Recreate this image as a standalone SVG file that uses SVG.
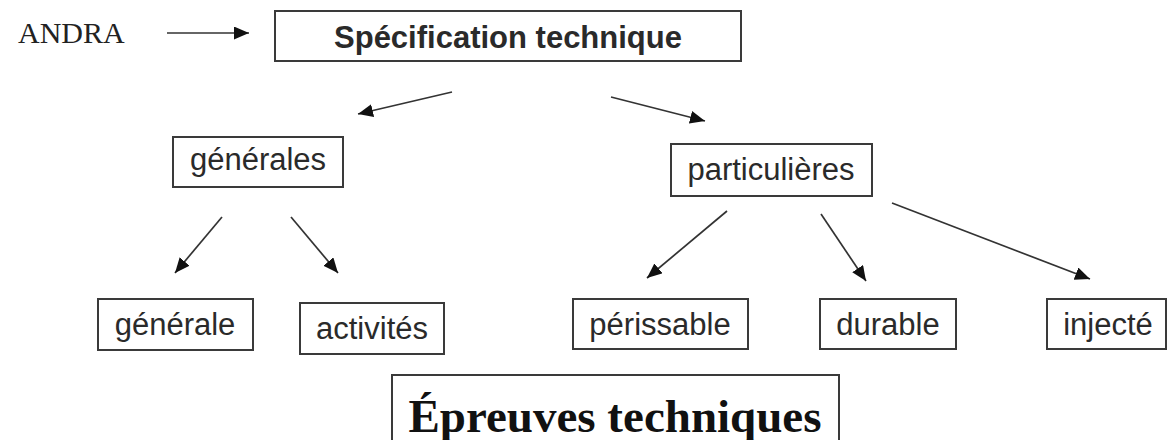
<svg xmlns="http://www.w3.org/2000/svg" width="1167" height="440" viewBox="0 0 1167 440">
<style>
.box{fill:#fff;stroke:#3a3a3a;stroke-width:2}
.lbl{font-family:"Liberation Sans",Arial,sans-serif;font-size:31px;fill:#2a2a2a;text-anchor:middle}
.conn{stroke:#333;stroke-width:1.7;fill:none;marker-end:url(#ah)}
</style>
<defs>
<marker id="ah" markerUnits="userSpaceOnUse" markerWidth="16" markerHeight="14" refX="15" refY="6.5" orient="auto">
<path d="M0,0 L15,6.5 L0,13 z" fill="#111"/>
</marker>
</defs>
<rect width="1167" height="440" fill="#fff"/>
<g id="andra">
<text x="18" y="43" font-family="'Liberation Serif','Times New Roman',serif" font-size="30" fill="#222">ANDRA</text>
</g>
<g id="specification">
<rect class="box" x="275" y="11" width="466" height="50"/>
<text class="lbl" x="508" y="48" font-weight="bold">Spécification technique</text>
</g>
<g id="generales">
<rect class="box" x="173" y="137" width="170" height="50"/>
<text class="lbl" x="258" y="170">générales</text>
</g>
<g id="particulieres">
<rect class="box" x="671" y="144" width="201" height="52"/>
<text class="lbl" x="771" y="180">particulières</text>
</g>
<g id="generale">
<rect class="box" x="98" y="299" width="155" height="51"/>
<text class="lbl" x="175" y="335">générale</text>
</g>
<g id="activites">
<rect class="box" x="300" y="303" width="144" height="51"/>
<text class="lbl" x="372" y="339">activités</text>
</g>
<g id="perissable">
<rect class="box" x="573" y="299" width="175" height="50"/>
<text class="lbl" x="660" y="335">périssable</text>
</g>
<g id="durable">
<rect class="box" x="820" y="299" width="136" height="50"/>
<text class="lbl" x="888" y="335">durable</text>
</g>
<g id="injecte">
<rect class="box" x="1047" y="299" width="119" height="50"/>
<text class="lbl" x="1108" y="335">injecté</text>
</g>
<g id="epreuves">
<rect class="box" x="392" y="375" width="447" height="80"/>
<text x="615" y="432" font-family="'Liberation Serif','Times New Roman',serif" font-size="47" font-weight="bold" fill="#111" text-anchor="middle">Épreuves techniques</text>
</g>
<g id="connectors">
<line class="conn" x1="167" y1="33" x2="249" y2="33"/>
<line class="conn" x1="452" y1="92" x2="358" y2="114"/>
<line class="conn" x1="611" y1="97" x2="705" y2="121"/>
<line class="conn" x1="222" y1="217" x2="175" y2="273"/>
<line class="conn" x1="291" y1="217" x2="338" y2="273"/>
<line class="conn" x1="727" y1="211" x2="647" y2="278"/>
<line class="conn" x1="821" y1="214" x2="866" y2="281"/>
<line class="conn" x1="892" y1="203" x2="1090" y2="279"/>
</g>
</svg>
